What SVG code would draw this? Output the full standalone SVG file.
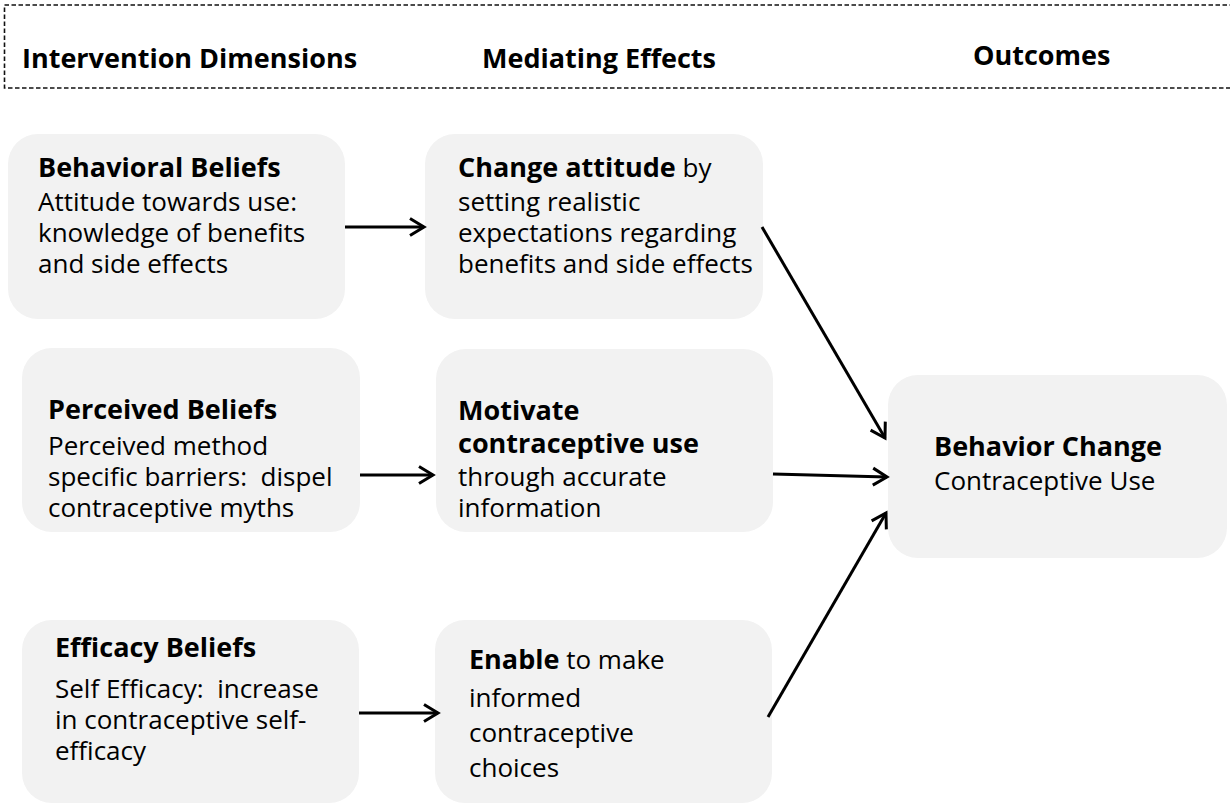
<svg xmlns="http://www.w3.org/2000/svg" width="1230" height="804" viewBox="0 0 1230 804">
  <style>
    text { font-family: "Open Sans", Lato, "Liberation Sans", sans-serif; fill: #000; white-space: pre; }
    .hdr { font-size: 27px; font-weight: bold; }
    .ttl { font-size: 27px; font-weight: bold; }
    .body { font-size: 26px; }
    .b { font-weight: bold; }
    .box { fill: #f2f2f2; stroke: none; }
    .conn { stroke: #000; stroke-width: 3; fill: none; marker-end: url(#arrow); }
  </style>
  <defs>
    <marker id="arrow" markerUnits="userSpaceOnUse" markerWidth="20" markerHeight="20" refX="15" refY="10" orient="auto" overflow="visible">
      <path d="M1,1.5 L15,10 L1,18.5" fill="none" stroke="#000" stroke-width="3"/>
    </marker>
  </defs>

  <rect width="1230" height="804" fill="#fff"/>

  <!-- column header band -->
  <g id="header">
    <rect x="4.5" y="5" width="1240" height="83" fill="none" stroke="#111" stroke-width="1.6" stroke-dasharray="4.5 2.5"/>
    <text class="hdr" x="22" y="68">Intervention Dimensions</text>
    <text class="hdr" x="482" y="68">Mediating Effects</text>
    <text class="hdr" x="973" y="65">Outcomes</text>
  </g>

  <g id="behavioral-beliefs">
    <rect class="box" x="8" y="134" width="337" height="185" rx="30"/>
    <text class="ttl" x="38" y="177">Behavioral Beliefs</text>
    <text class="body"><tspan x="38" y="211">Attitude towards use:</tspan><tspan x="38" y="242">knowledge of benefits</tspan><tspan x="38" y="273">and side effects</tspan></text>
  </g>

  <g id="change-attitude">
    <rect class="box" x="425" y="134" width="338" height="185" rx="30"/>
    <text class="body" x="458" y="177"><tspan class="b" font-size="27">Change attitude</tspan> by</text>
    <text class="body"><tspan x="458" y="211">setting realistic</tspan><tspan x="458" y="242">expectations regarding</tspan><tspan x="458" y="273">benefits and side effects</tspan></text>
  </g>

  <g id="perceived-beliefs">
    <rect class="box" x="22" y="348" width="338" height="184" rx="30"/>
    <text class="ttl" x="48" y="419">Perceived Beliefs</text>
    <text class="body"><tspan x="48" y="455">Perceived method</tspan><tspan x="48" y="486">specific barriers:  dispel</tspan><tspan x="48" y="517">contraceptive myths</tspan></text>
  </g>

  <g id="motivate">
    <rect class="box" x="436" y="349" width="337" height="183" rx="30"/>
    <text class="ttl"><tspan x="458" y="420">Motivate</tspan><tspan x="458" y="453">contraceptive use</tspan></text>
    <text class="body"><tspan x="458" y="486">through accurate</tspan><tspan x="458" y="517">information</tspan></text>
  </g>

  <g id="behavior-change">
    <rect class="box" x="888" y="375" width="339" height="183" rx="30"/>
    <text class="ttl" x="934" y="456">Behavior Change</text>
    <text class="body" x="934" y="490">Contraceptive Use</text>
  </g>

  <g id="efficacy-beliefs">
    <rect class="box" x="22" y="620" width="337" height="183" rx="30"/>
    <text class="ttl" x="55" y="657">Efficacy Beliefs</text>
    <text class="body"><tspan x="55" y="698">Self Efficacy:  increase</tspan><tspan x="55" y="729">in contraceptive self-</tspan><tspan x="55" y="760">efficacy</tspan></text>
  </g>

  <g id="enable">
    <rect class="box" x="435" y="620" width="337" height="183" rx="30"/>
    <text class="body" x="469" y="669"><tspan class="b" font-size="27">Enable</tspan> to make</text>
    <text class="body"><tspan x="469" y="707">informed</tspan><tspan x="469" y="742">contraceptive</tspan><tspan x="469" y="777">choices</tspan></text>
  </g>

  <!-- connectors -->
  <g id="connectors">
    <line class="conn" x1="345" y1="227" x2="424" y2="227"/>
    <line class="conn" x1="360" y1="475" x2="433" y2="475"/>
    <line class="conn" x1="359" y1="713" x2="438" y2="713"/>
    <line class="conn" x1="762" y1="227" x2="885" y2="438"/>
    <line class="conn" x1="773" y1="474" x2="887" y2="477"/>
    <line class="conn" x1="768" y1="717" x2="886" y2="513"/>
  </g>
</svg>
